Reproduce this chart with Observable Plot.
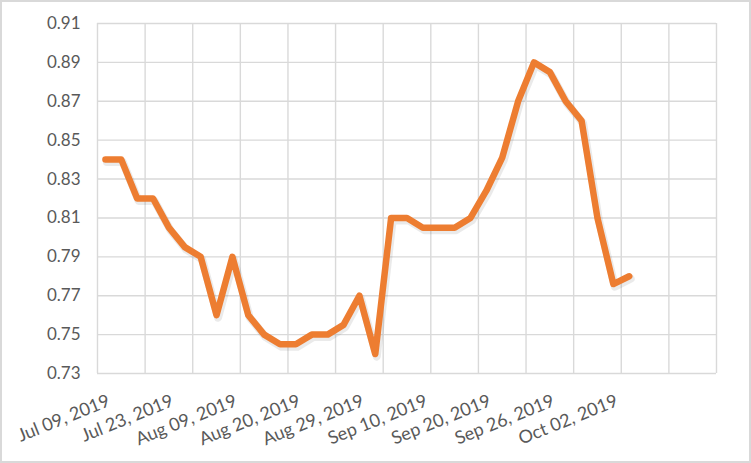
<!DOCTYPE html>
<html>
<head>
<meta charset="utf-8">
<script src="https://cdn.jsdelivr.net/npm/d3@7"></script>
<script src="https://cdn.jsdelivr.net/npm/@observablehq/plot@0.6"></script>
<style>
  html, body { margin: 0; padding: 0; background: #fff; }
  #wrap { position: relative; width: 751px; height: 463px; overflow: hidden; }
  #border { position: absolute; left: 0; top: 0; width: 751px; height: 463px; box-sizing: border-box; border: 2px solid #d9d9d9; pointer-events: none; }
  svg { display: block; }
</style>
</head>
<body>
<div id="wrap"><div id="chart"></div><div id="border"></div></div>
<script>
// 39 category slots on the axis; data present for the first 34
const categoryCount = 39;
const values = [
  0.84, 0.84, 0.82, 0.82, 0.805, 0.795, 0.79, 0.76, 0.79, 0.76,
  0.75, 0.745, 0.745, 0.75, 0.75, 0.755, 0.77, 0.74, 0.81, 0.81,
  0.805, 0.805, 0.805, 0.81, 0.824, 0.841, 0.87, 0.89, 0.885, 0.87,
  0.86, 0.81, 0.776, 0.78
];
const tickIndex = [0, 4, 8, 12, 16, 20, 24, 28, 32];
const tickLabels = ["Jul 09, 2019", "Jul 23, 2019", "Aug 09, 2019", "Aug 20, 2019",
  "Aug 29, 2019", "Sep 10, 2019", "Sep 20, 2019", "Sep 26, 2019", "Oct 02, 2019"];
const yTicks = [0.73, 0.75, 0.77, 0.79, 0.81, 0.83, 0.85, 0.87, 0.89, 0.91];
const gridEvery = 3;

const data = values.map((v, i) => ({i, v}));
const ticks = tickIndex.map((t, k) => ({t, label: tickLabels[k]}));
const vGrid = d3.range(0, categoryCount + 1, gridEvery).map(b => b - 0.5);

const chart = Plot.plot({
  width: 751,
  height: 463,
  marginLeft: 97,
  marginRight: 35,
  marginTop: 23,
  marginBottom: 90,
  style: {fontFamily: "Lato, 'Open Sans', sans-serif", fontSize: "17px", color: "#595959", background: "#fff"},
  x: {domain: [-0.5, categoryCount - 0.5], label: null, axis: null},
  y: {domain: [0.73, 0.91], label: null},
  marks: [
    Plot.ruleY(yTicks, {stroke: "#d9d9d9", strokeWidth: 1.4}),
    Plot.ruleX(vGrid, {stroke: "#d9d9d9", strokeWidth: 1.4}),
    Plot.axisY({ticks: yTicks, label: null, tickSize: 0, tickPadding: 17, tickFormat: d => d.toFixed(2), fontSize: 17, fill: "#595959"}),
    Plot.text(ticks, {x: "t", text: "label", frameAnchor: "bottom", dy: 20, dx: 1, rotate: -22, textAnchor: "end", lineAnchor: "top", fontSize: 18, fill: "#595959"}),
    Plot.line(data, {x: "i", y: "v", stroke: "#555", strokeOpacity: 0.12, strokeWidth: 8, dx: 1.5, dy: 2.5, strokeLinejoin: "round", strokeLinecap: "round"}),
    Plot.line(data, {x: "i", y: "v", stroke: "#ED7D31", strokeWidth: 6.5, strokeLinejoin: "round", strokeLinecap: "round"})
  ]
});
document.getElementById("chart").appendChild(chart);
</script>
</body>
</html>
